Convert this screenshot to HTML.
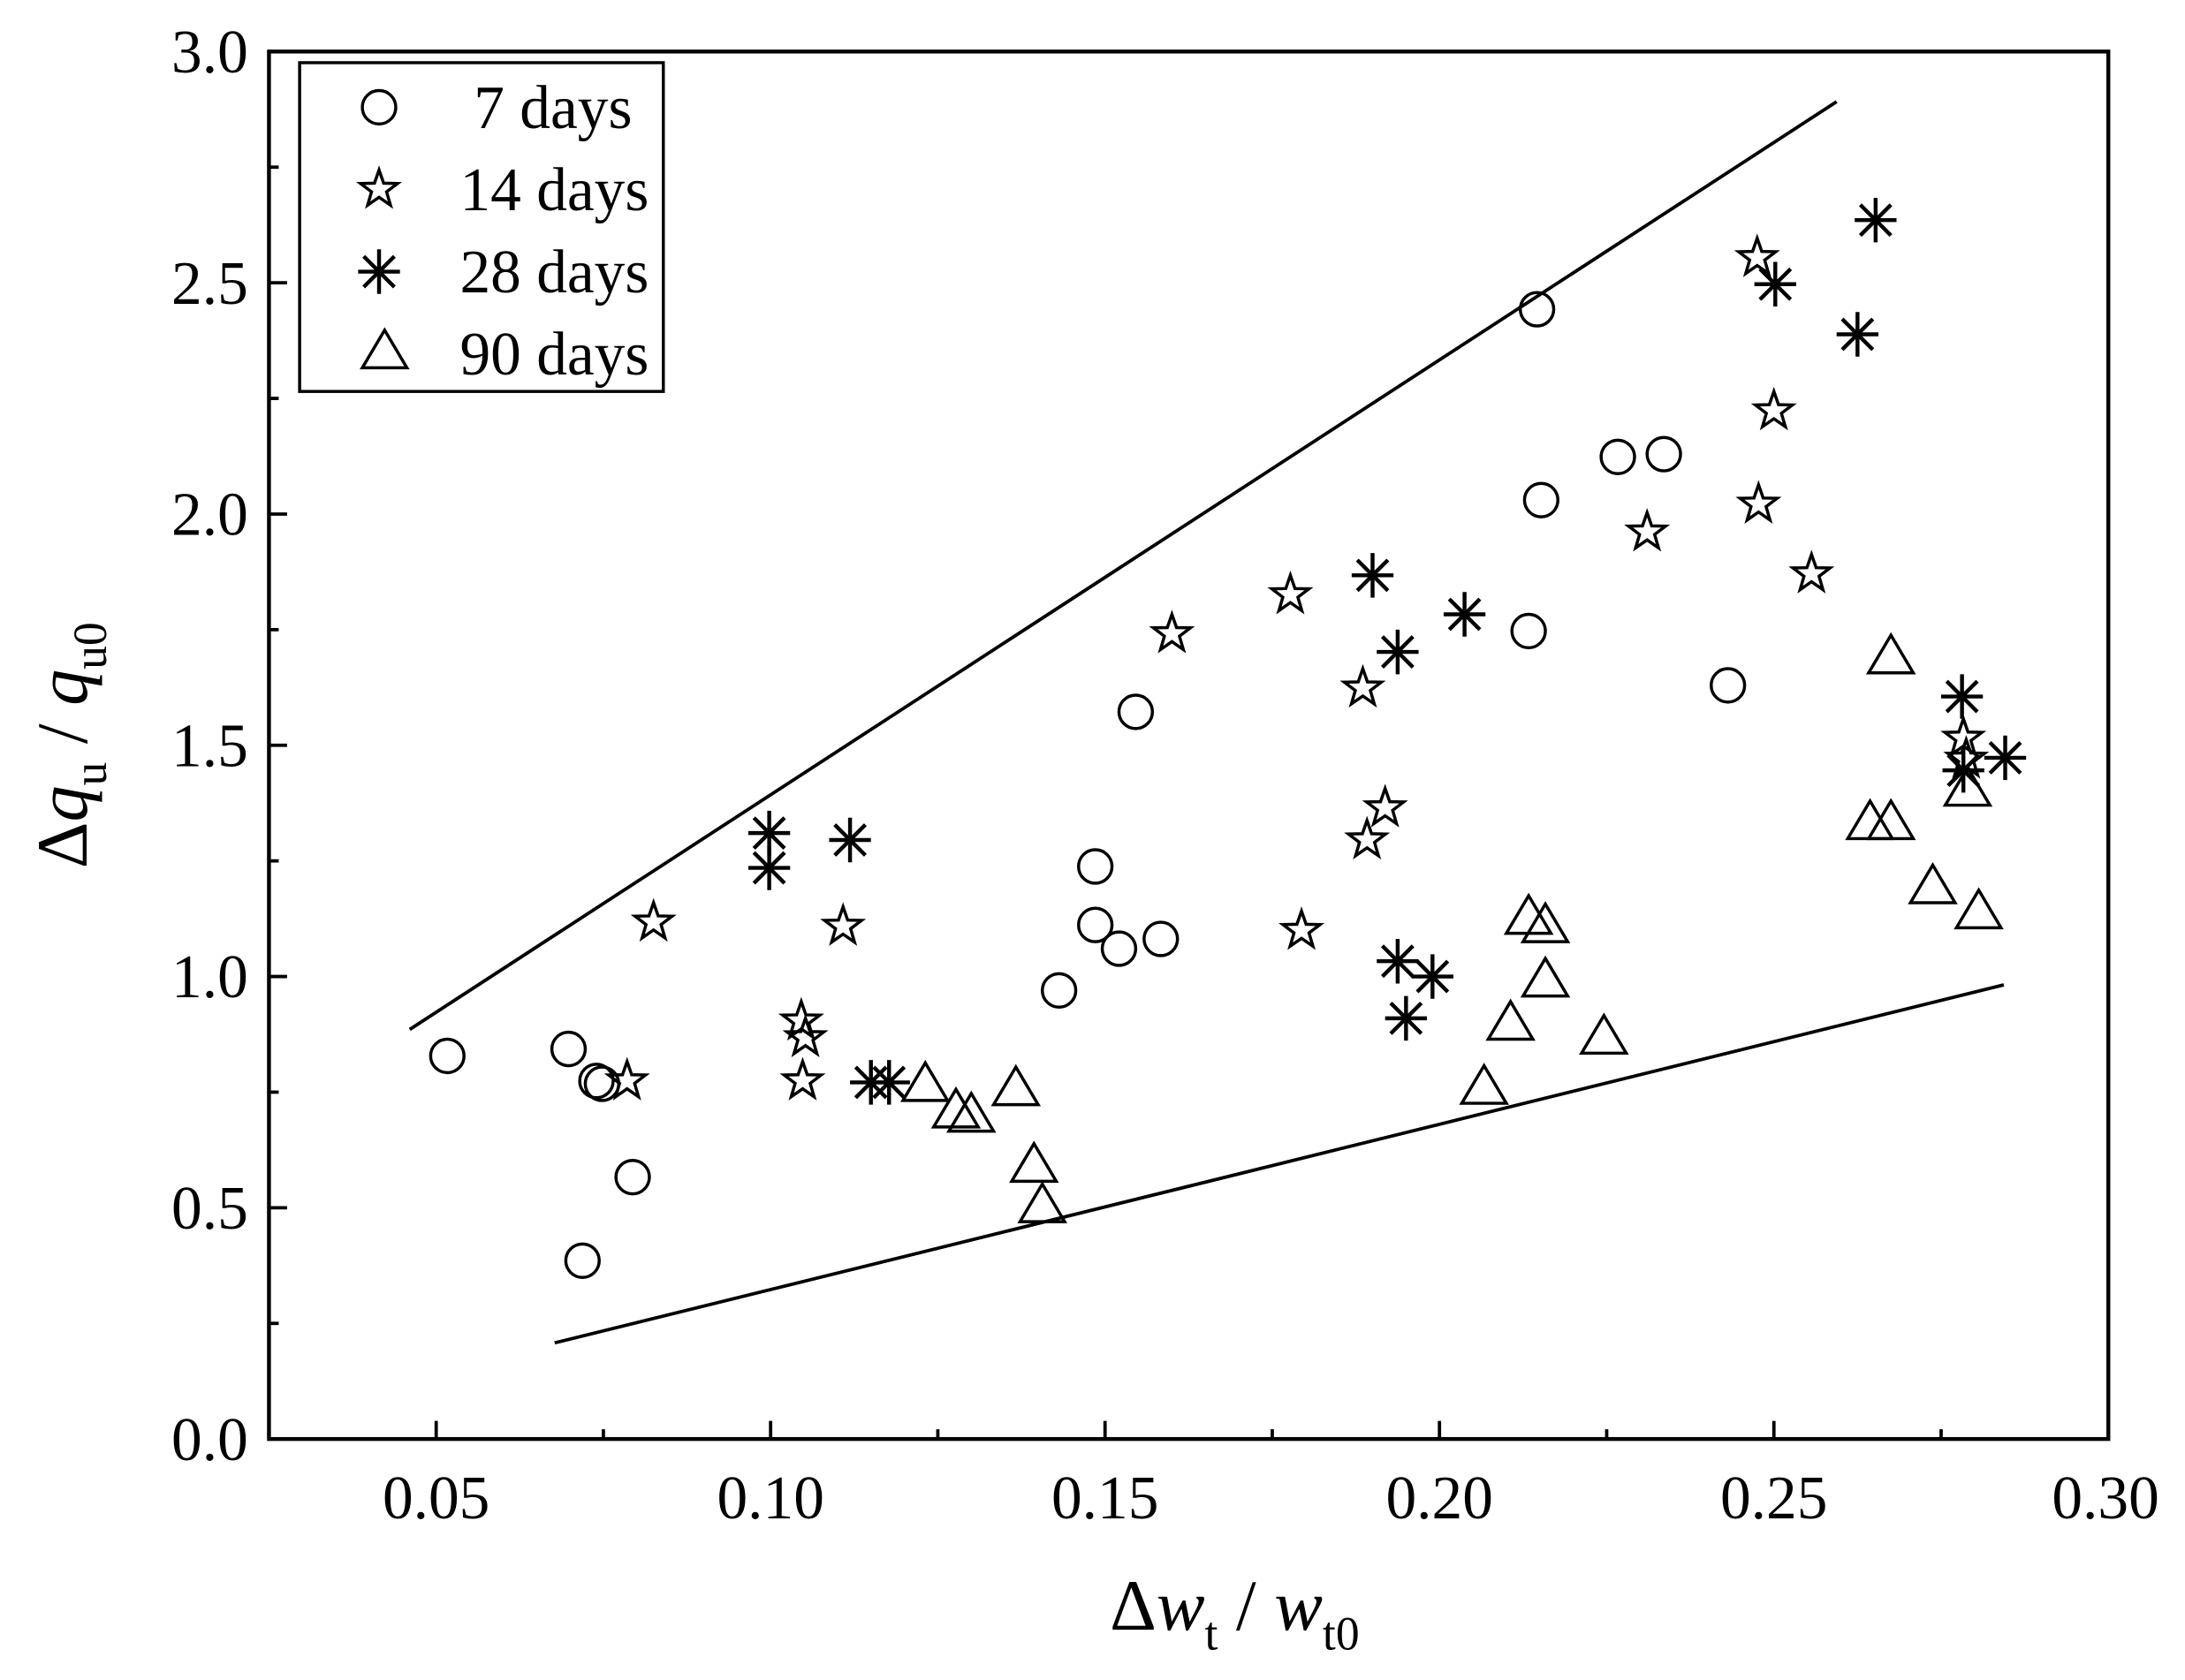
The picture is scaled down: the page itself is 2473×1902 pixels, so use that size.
<!DOCTYPE html>
<html><head><style>html,body{margin:0;padding:0;background:#fff}svg{display:block}</style></head>
<body>
<svg width="2473" height="1902" viewBox="0 0 1568 1206" xmlns="http://www.w3.org/2000/svg" font-family="Liberation Serif, serif">
<defs>
<g id="c"><circle r="12" fill="none" stroke="#000" stroke-width="2.2"/></g>
<g id="s"><polygon points="0,-14 3.3,-4.5 13.3,-4.3 5.4,1.7 8.2,11.3 0,5.6 -8.2,11.3 -5.4,1.7 -13.3,-4.3 -3.3,-4.5" fill="none" stroke="#000" stroke-width="2.2"/></g>
<g id="a" stroke="#000" stroke-width="2.8"><line x1="-15" y1="0" x2="15" y2="0"/><line x1="0" y1="-16" x2="0" y2="16"/><line x1="-11" y1="-11" x2="11" y2="11"/><line x1="-11" y1="11" x2="11" y2="-11"/></g>
<g id="t"><polygon points="0,-15 16,12 -16,12" fill="none" stroke="#000" stroke-width="2.2"/></g>
</defs>
<rect x="193" y="37" width="1320" height="996" fill="none" stroke="#000" stroke-width="2.8"/>
<g stroke="#000" stroke-width="2.4">
<line x1="193" y1="1033" x2="206" y2="1033"/><line x1="193" y1="950" x2="200" y2="950"/>
<line x1="193" y1="867" x2="206" y2="867"/><line x1="193" y1="784" x2="200" y2="784"/>
<line x1="193" y1="701" x2="206" y2="701"/><line x1="193" y1="618" x2="200" y2="618"/>
<line x1="193" y1="535" x2="206" y2="535"/><line x1="193" y1="452" x2="200" y2="452"/>
<line x1="193" y1="369" x2="206" y2="369"/><line x1="193" y1="286" x2="200" y2="286"/>
<line x1="193" y1="203" x2="206" y2="203"/><line x1="193" y1="120" x2="200" y2="120"/>
<line x1="193" y1="37" x2="206" y2="37"/>
<line x1="313" y1="1033" x2="313" y2="1020"/><line x1="433" y1="1033" x2="433" y2="1026"/>
<line x1="553" y1="1033" x2="553" y2="1020"/><line x1="673" y1="1033" x2="673" y2="1026"/>
<line x1="793" y1="1033" x2="793" y2="1020"/><line x1="913" y1="1033" x2="913" y2="1026"/>
<line x1="1033" y1="1033" x2="1033" y2="1020"/><line x1="1153" y1="1033" x2="1153" y2="1026"/>
<line x1="1273" y1="1033" x2="1273" y2="1020"/><line x1="1393" y1="1033" x2="1393" y2="1026"/>
<line x1="294" y1="739" x2="1318" y2="73"/><line x1="398" y1="964" x2="1438" y2="707"/>
</g>
<g font-size="44" text-anchor="end">
<text x="178" y="1048">0.0</text><text x="178" y="882">0.5</text><text x="178" y="716">1.0</text>
<text x="178" y="550">1.5</text><text x="178" y="384">2.0</text><text x="178" y="218">2.5</text><text x="178" y="52">3.0</text>
</g>
<g font-size="44" text-anchor="middle">
<text x="313" y="1090">0.05</text><text x="553" y="1090">0.10</text><text x="793" y="1090">0.15</text>
<text x="1033" y="1090">0.20</text><text x="1273" y="1090">0.25</text><text x="1511" y="1090">0.30</text>
</g>
<text x="886" y="1170" font-size="52" text-anchor="middle">Δ<tspan font-style="italic">w</tspan><tspan font-size="34" dy="14">t</tspan><tspan dy="-14"> / </tspan><tspan font-style="italic">w</tspan><tspan font-size="34" dy="14">t0</tspan></text>
<text transform="translate(62,535) rotate(-90)" font-size="52" text-anchor="middle">Δ<tspan font-style="italic">q</tspan><tspan font-size="34" dy="14">u</tspan><tspan dy="-14"> / </tspan><tspan font-style="italic">q</tspan><tspan font-size="34" dy="14">u0</tspan></text>
<rect x="215" y="45" width="261" height="236" fill="#fff" stroke="#000" stroke-width="2.2"/>
<use href="#c" x="272" y="77"/><use href="#s" x="272" y="136"/><use href="#a" x="272" y="195"/><use href="#t" x="276" y="252"/>
<g font-size="44"><text x="340" y="92">7 days</text><text x="330" y="151">14 days</text><text x="330" y="210">28 days</text><text x="330" y="269">90 days</text></g>
<g>
<use href="#c" x="321" y="758"/><use href="#c" x="408" y="753"/><use href="#c" x="428" y="776"/><use href="#c" x="432" y="778"/><use href="#c" x="454" y="845"/><use href="#c" x="418" y="905"/><use href="#c" x="760" y="711"/><use href="#c" x="786" y="622"/><use href="#c" x="786" y="664"/><use href="#c" x="803" y="681"/><use href="#c" x="833" y="674"/><use href="#c" x="815" y="511"/><use href="#c" x="1103" y="222"/><use href="#c" x="1106" y="359"/><use href="#c" x="1097" y="453"/><use href="#c" x="1161" y="328"/><use href="#c" x="1194" y="326"/><use href="#c" x="1240" y="492"/>
<use href="#s" x="450" y="776"/><use href="#s" x="469" y="662"/><use href="#s" x="575" y="733"/><use href="#s" x="578" y="745"/><use href="#s" x="576" y="776"/><use href="#s" x="605" y="665"/><use href="#s" x="841" y="455"/><use href="#s" x="926" y="427"/><use href="#s" x="934" y="668"/><use href="#s" x="978" y="494"/><use href="#s" x="981" y="603"/><use href="#s" x="994" y="580"/><use href="#s" x="1182" y="382"/><use href="#s" x="1261" y="185"/><use href="#s" x="1273" y="295"/><use href="#s" x="1262" y="362"/><use href="#s" x="1300" y="412"/><use href="#s" x="1409" y="530"/><use href="#s" x="1411" y="545"/>
<use href="#a" x="552" y="598"/><use href="#a" x="552" y="623"/><use href="#a" x="610" y="603"/><use href="#a" x="625" y="777"/><use href="#a" x="638" y="777"/><use href="#a" x="985" y="413"/><use href="#a" x="1003" y="468"/><use href="#a" x="1051" y="441"/><use href="#a" x="1003" y="690"/><use href="#a" x="1028" y="701"/><use href="#a" x="1009" y="731"/><use href="#a" x="1274" y="204"/><use href="#a" x="1346" y="158"/><use href="#a" x="1333" y="240"/><use href="#a" x="1408" y="500"/><use href="#a" x="1409" y="553"/><use href="#a" x="1439" y="544"/>
<use href="#t" x="664" y="778"/><use href="#t" x="686" y="797"/><use href="#t" x="697" y="800"/><use href="#t" x="729" y="781"/><use href="#t" x="742" y="836"/><use href="#t" x="748" y="865"/><use href="#t" x="1065" y="780"/><use href="#t" x="1084" y="734"/><use href="#t" x="1097" y="658"/><use href="#t" x="1109" y="664"/><use href="#t" x="1109" y="703"/><use href="#t" x="1151" y="744"/><use href="#t" x="1357" y="471"/><use href="#t" x="1342" y="590"/><use href="#t" x="1357" y="590"/><use href="#t" x="1387" y="636"/><use href="#t" x="1412" y="566"/><use href="#t" x="1420" y="654"/>
</g>
</svg>
</body></html>
